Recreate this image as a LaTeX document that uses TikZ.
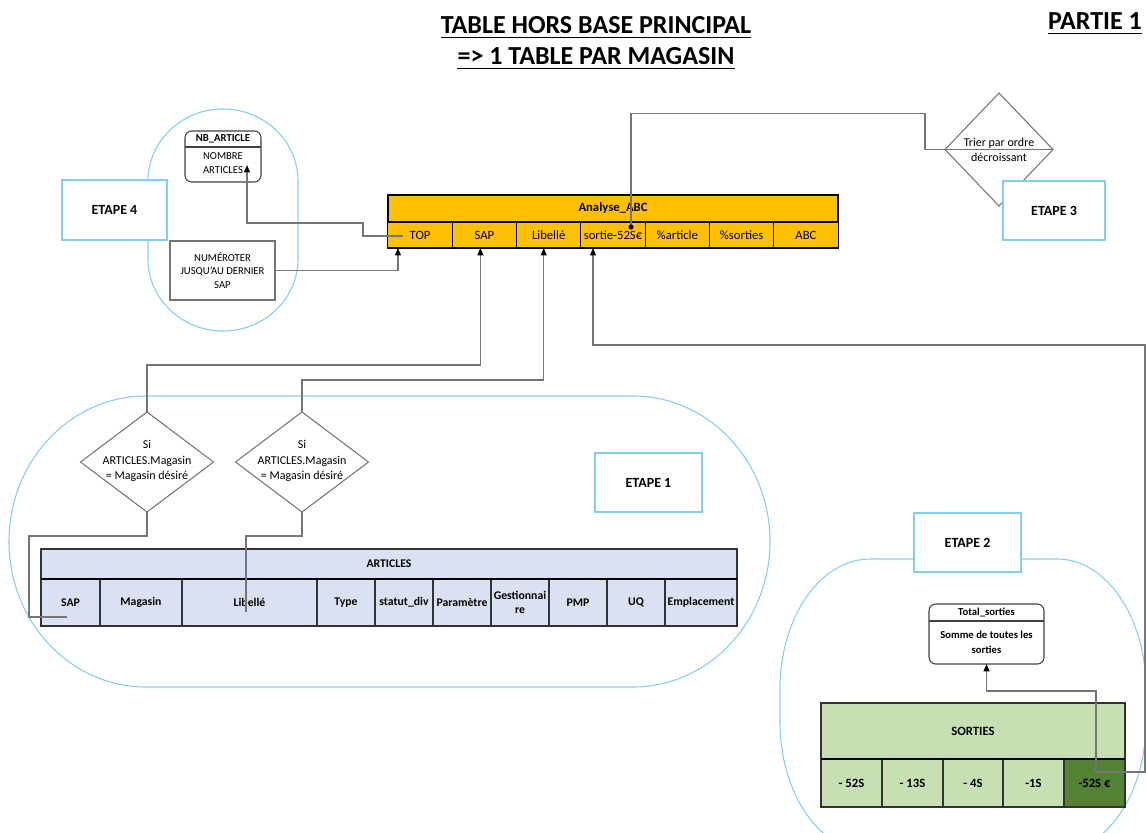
\documentclass[tikz,border=0pt]{standalone}
\usepackage{fontspec}
\setmainfont{Carlito}
\usetikzlibrary{arrows.meta,shapes.geometric,calc}
\newlength\pu
\setlength\pu{0.75pt}
\definecolor{stepblue}{RGB}{130,206,240}
\definecolor{conngray}{RGB}{118,118,118}
\definecolor{abcfill}{RGB}{255,192,0}
\definecolor{artfill}{RGB}{217,225,242}
\definecolor{sortfill}{RGB}{198,224,180}
\definecolor{sortdark}{RGB}{84,130,53}
\begin{document}
\begin{tikzpicture}[x=0.75pt,y=-0.75pt,
  sz/.style 2 args={minimum width=#1\pu,minimum height=#2\pu,inner sep=0pt,outer sep=0pt},
  titletext/.style={inner sep=0pt,font=\bfseries\fontsize{19.5}{23}\selectfont},
  stepbox/.style={draw=stepblue,line width=1.1pt,fill=white,font=\bfseries\fontsize{10.5}{12}\selectfont},
  halo/.style={draw=stepblue,line width=0.8pt},
  plainbox/.style={draw=conngray,line width=0.8pt,fill=white,align=center,font=\fontsize{8}{10}\selectfont},
  roundbox/.style={draw=black!75,line width=0.8pt,fill=white,rounded corners=5pt},
  abccell/.style={draw=black,line width=0.8pt,fill=abcfill,font=\fontsize{9.5}{11}\selectfont},
  artcell/.style={draw=black!80,line width=0.9pt,fill=artfill,align=center,font=\bfseries\fontsize{8.8}{10.5}\selectfont},
  sortcell/.style={draw=black!80,line width=0.8pt,fill=sortfill,font=\bfseries\fontsize{9.5}{11}\selectfont},
  dia/.style={diamond,draw=conngray,line width=0.8pt,inner sep=0pt,outer sep=0pt},
  diatext/.style={align=center,inner sep=0pt,font=\fontsize{9}{11.6}\selectfont},
  conn/.style={draw=conngray,line width=1pt},
  arr/.style={-{Triangle[length=5.5pt,width=4.4pt,color=black]}}
]
\useasboundingbox (0,0) rectangle (1146,832);

% ---- group outlines ----
\draw[halo] (223,109) arc[start angle=270,end angle=360,x radius=75,y radius=72]
  -- (298,259) arc[start angle=0,end angle=90,x radius=75,y radius=72]
  arc[start angle=90,end angle=180,x radius=75,y radius=72]
  -- (148,181) arc[start angle=180,end angle=270,x radius=75,y radius=72] -- cycle;
\draw[halo] (146,396) -- (633,396)
  arc[start angle=270,end angle=360,x radius=137,y radius=145.5]
  arc[start angle=0,end angle=90,x radius=137,y radius=145.5]
  -- (146,687)
  arc[start angle=90,end angle=180,x radius=137,y radius=145.5]
  arc[start angle=180,end angle=270,x radius=137,y radius=145.5] -- cycle;
\draw[halo] (870,559) -- (1057,559)
  arc[start angle=270,end angle=360,x radius=89,y radius=130]
  -- (1146,722) arc[start angle=0,end angle=90,x radius=89,y radius=130]
  -- (870,852) arc[start angle=90,end angle=180,x radius=90,y radius=130]
  -- (780,689) arc[start angle=180,end angle=270,x radius=90,y radius=130] -- cycle;

% ---- titles ----
\node[titletext] (title1) at (596,25) {TABLE HORS BASE PRINCIPAL};
\node[titletext] (title2) at (596,56) {=> 1 TABLE PAR MAGASIN};
\node[titletext] (partie) at (1095,21) {PARTIE 1};
\foreach \t in {title1,title2,partie}
  \draw[line width=1.4pt] ([yshift=-3pt]\t.base west) -- ([yshift=-3pt]\t.base east);

% ---- NB_ARTICLE and numbering ----
\node[roundbox,sz={76}{51}] (nbart) at (223,156.5) {};
\node[sz={76}{16},anchor=north,font=\bfseries\fontsize{8}{10}\selectfont] (nbhead) at (nbart.north) {NB\_ARTICLE};
\draw[black!75,line width=0.8pt] (nbhead.south west) -- (nbhead.south east);
\node[align=center,inner sep=0pt,font=\fontsize{8}{10.5}\selectfont] (nbbody) at (223,163) {NOMBRE\\ARTICLES};
\coordinate (nbtip) at (247,165);
\node[plainbox,sz={105}{59}] (num) at (222.5,270.5) {NUMÉROTER\\JUSQU'AU DERNIER\\SAP};

% ---- Analyse_ABC ----
\node[abccell,sz={450}{27},font=\bfseries\fontsize{9.5}{11}\selectfont] (abchead) at (613,208.5) {Analyse\_ABC};
\node[abccell,sz={64.3}{26}] (top) at (420.1,235) {TOP};
\node[abccell,sz={64.3}{26}] (sap) at (484.4,235) {SAP};
\node[abccell,sz={64.3}{26}] (lib) at (548.7,235) {Libellé};
\node[abccell,sz={64.3}{26}] (sor) at (613,235) {sortie-52S€};
\node[abccell,sz={64.3}{26}] (part) at (677.3,235) {\%article};
\node[abccell,sz={64.3}{26}] (psor) at (741.6,235) {\%sorties};
\node[abccell,sz={64.3}{26}] (abc) at (805.9,235) {ABC};
\draw[black,line width=1.3pt] (abchead.south west) -- (abchead.south east);

% ---- Trier ----
\node[dia,fill=white,minimum width=108\pu,minimum height=113\pu] (trier) at (999,149.5) {};
\node[diatext] (triert) at (999,150) {Trier par ordre\\décroissant};

% ---- ARTICLES ----
\node[artcell,sz={696}{30}] (arthead) at (389,564) {ARTICLES};
\node[artcell,sz={59}{47}] (a1) at (70.5,602.5) {SAP};
\node[artcell,sz={82}{47}] (a2) at (141,602.5) {Magasin};
\node[artcell,sz={135}{47}] (a3) at (249.5,602.5) {Libellé};
\node[artcell,sz={58}{47}] (a4) at (346,602.5) {Type};
\node[artcell,sz={58}{47}] (a5) at (404,602.5) {statut\_div};
\node[artcell,sz={58}{47}] (a6) at (462,602.5) {Paramètre};
\node[artcell,sz={58}{47}] (a7) at (520,602.5) {Gestionnai\\re};
\node[artcell,sz={58}{47}] (a8) at (578,602.5) {PMP};
\node[artcell,sz={58}{47}] (a9) at (636,602.5) {UQ};
\node[artcell,sz={72}{47}] (a10) at (701,602.5) {Emplacement};
\draw[black,line width=1.4pt] (arthead.south west) -- (arthead.south east);

% ---- conditions ----
\node[dia,minimum width=133\pu,minimum height=100\pu] (d1) at (147,462) {};
\node[diatext] (d1t) at (147,461) {Si\\ARTICLES.Magasin\\= Magasin désiré};
\node[dia,minimum width=133\pu,minimum height=100\pu] (d2) at (302,462) {};
\node[diatext] (d2t) at (302,461) {Si\\ARTICLES.Magasin\\= Magasin désiré};

% ---- SORTIES and Total_sorties ----
\node[sortcell,sz={304}{56}] (shead) at (973,731) {SORTIES};
\node[sortcell,sz={61}{48}] (s1) at (851.5,783) {- 52S};
\node[sortcell,sz={61}{48}] (s2) at (912.5,783) {- 13S};
\node[sortcell,sz={60}{48}] (s3) at (973,783) {- 4S};
\node[sortcell,sz={61}{48}] (s4) at (1033.5,783) {-1S};
\node[sortcell,sz={61}{48},fill=sortdark] (s5) at (1094.5,783) {-52S €};
\draw[black,line width=1.3pt] (shead.south west) -- (shead.south east);
\node[roundbox,sz={115}{60}] (tot) at (986.5,634) {};
\node[sz={115}{17},anchor=north,font=\bfseries\fontsize{8}{10}\selectfont] (toth) at (tot.north) {Total\_sorties};
\draw[black!75,line width=0.8pt] (toth.south west) -- (toth.south east);
\node[align=center,inner sep=0pt,font=\bfseries\fontsize{8}{11}\selectfont] (totb) at (986.5,642) {Somme de toutes les\\sorties};

% ---- connectors ----
\draw[conn,arr] ($(top.center)+(-17,1)$) -- ++(-40,0) -- ++(0,-13) -| (nbtip);
\draw[conn,arr] (num.east) -| ($(top.south west)+(10,0)$);
\draw[conn,arr] (d1.north) -- ++(0,-47) -| ($(sap.south)+(-4,0)$);
\draw[conn,arr] (d2.north) -- ++(0,-32) -| ($(lib.south)+(-5,0)$);
\draw[conn] (d1.south) -- ++(0,24) -- ++(-118,0) |- ($(a1.center)+(-3.5,14.5)$);
\draw[conn] (d2.south) -- ++(0,24) -| ($(a3.center)+(-3.5,9.5)$);
\coordinate (s5p) at ($(s5.center)+(1.5,-11)$);
\draw[conn,arr] (s5p) -- ++(49,0) -- ++(0,-427) -| ($(sor.south)+(-20,0)$);
\draw[conn,arr] (s5p) -- ++(0,-81) -| (tot.south);
\coordinate (dot) at ($(sor.center)+(18,-8)$);
\draw[conn] (trier.east) -- (trier.west) -- ++(-20,0) -- ++(0,-36) -| (dot);
\fill[black] (dot) circle[radius=2.6];

% ---- step labels ----
\node[stepbox,sz={105}{60}] (e4) at (114.5,210) {ETAPE 4};
\node[stepbox,sz={102}{59}] (e3) at (1054,210.5) {ETAPE 3};
\node[stepbox,sz={107}{59}] (e1) at (648.5,482.5) {ETAPE 1};
\node[stepbox,sz={107}{59}] (e2) at (967.5,542.5) {ETAPE 2};
\end{tikzpicture}
\end{document}
